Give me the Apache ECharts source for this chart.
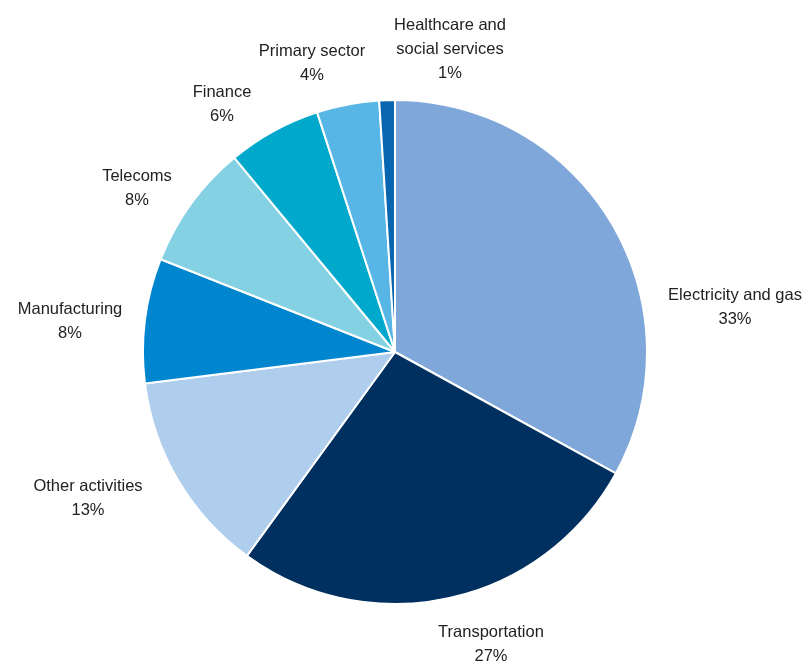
<!DOCTYPE html>
<html>
<head>
<meta charset="utf-8">
<script src="https://cdn.jsdelivr.net/npm/echarts@6/dist/echarts.min.js"></script>
<style>html,body{margin:0;padding:0;background:#fff;}#c{width:810px;height:664px;}</style>
</head>
<body>
<div id="c"></div>
<script>
const categories = ['Electricity and gas', 'Transportation', 'Other activities', 'Manufacturing', 'Telecoms', 'Finance', 'Primary sector', 'Healthcare and\nsocial services'];
const shares = [33, 27, 13, 8, 8, 6, 4, 1];
const colors = ['#7FA7D9', '#00305F', '#AFCDED', '#0086CF', '#84D1E4', '#00A9CB', '#57B6E6', '#0865B0'];
// label centre positions (px), as placed in the source chart
const labelX = [735, 491, 88, 70, 137, 222, 312, 450];
const labelY = [307, 644, 498, 321, 188, 104, 63, 49];

const chart = echarts.init(document.getElementById('c'), null, {renderer: 'canvas'});
chart.setOption({
  animation: false,
  series: [{
    type: 'pie',
    center: [395, 352],
    radius: 252,
    startAngle: 90,
    clockwise: true,
    data: categories.map((n, i) => ({name: n, value: shares[i], itemStyle: {color: colors[i]}})),
    itemStyle: {borderColor: '#fff', borderWidth: 2},
    label: {
      show: true,
      position: 'outside',
      overflow: 'none',
      edgeDistance: 0,
      formatter: p => p.name + '\n' + shares[p.dataIndex] + '%',
      fontFamily: "'Liberation Sans Narrow', 'Arial Narrow', 'Liberation Sans', Arial, sans-serif",
      fontSize: 16.5,
      lineHeight: 24,
      color: '#222',
      align: 'center'
    },
    labelLine: {show: false},
    labelLayout: p => ({x: labelX[p.dataIndex], y: labelY[p.dataIndex], align: 'center', verticalAlign: 'middle'}),
    emphasis: {disabled: true}
  }]
});
</script>
</body>
</html>
